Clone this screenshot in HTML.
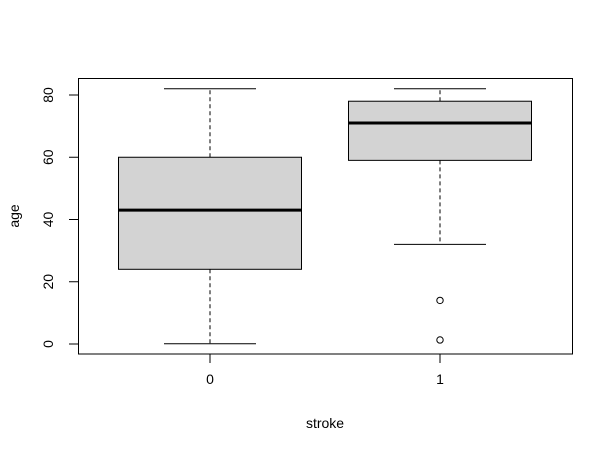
<!DOCTYPE html>
<html><head><meta charset="utf-8"><style>body{margin:0;background:#fff}svg{display:block}text{font-family:"Liberation Sans",Arial,sans-serif;font-size:14px;fill:#000}</style></head>
<body>
<svg id="chart" width="613" height="452">
<rect x="78.5" y="78.5" width="494" height="275.5" fill="none" stroke="#000"/>
<g id="yaxis"></g>
<g id="xaxis"></g>
<g id="boxes"></g>
<text x="325" y="428" text-anchor="middle">stroke</text>
<text transform="translate(19,216) rotate(-90)" text-anchor="middle">age</text>
</svg>
<script>
const categories = ["0","1"];
const mins = [0.08, 32];
const q1s = [24, 59];
const medians = [43, 71];
const q3s = [60, 78];
const maxs = [82, 82];
const outliers = [[], [14, 1.3]];
const yTicks = [0,20,40,60,80];
const NS="http://www.w3.org/2000/svg";
function y(v){return 344 - v*(344-95)/80;}
function x(i){return 210 + i*230;}
function mk(tag,attrs,parent){const e=document.createElementNS(NS,tag);for(const k in attrs)e.setAttribute(k,attrs[k]);parent.appendChild(e);return e;}
const ya=document.getElementById('yaxis'), xa=document.getElementById('xaxis'), bx=document.getElementById('boxes');
mk('line',{x1:78.5,x2:78.5,y1:y(0),y2:y(80),stroke:'#000'},ya);
yTicks.forEach(t=>{
  const l=mk('line',{x1:69,x2:78.5,y1:y(t),y2:y(t),stroke:'#000'},ya);
  
  
  const tx=mk('text',{transform:`translate(53,${y(t)}) rotate(-90)`,'text-anchor':'middle'},ya);
  tx.textContent=t;
  
  
});
mk('line',{x1:x(0),x2:x(1),y1:354,y2:354,stroke:'#000'},xa);
categories.forEach((c,i)=>{
  const l=mk('line',{x1:x(i),x2:x(i),y1:354,y2:363,stroke:'#000'},xa);
  
  
  const tx=mk('text',{x:x(i),y:384,'text-anchor':'middle'},xa);
  tx.textContent=c;
  
  
  const g=mk('g',{},bx);
  
  
  const cx=x(i);
  mk('line',{x1:cx,x2:cx,y1:y(q3s[i]),y2:y(maxs[i]),stroke:'#000','stroke-dasharray':'4,3'},g);
  mk('line',{x1:cx,x2:cx,y1:y(q1s[i]),y2:y(mins[i]),stroke:'#000','stroke-dasharray':'4,3'},g);
  mk('line',{x1:cx-46,x2:cx+46,y1:y(maxs[i]),y2:y(maxs[i]),stroke:'#000'},g);
  mk('line',{x1:cx-46,x2:cx+46,y1:y(mins[i]),y2:y(mins[i]),stroke:'#000'},g);
  mk('rect',{x:cx-91.5,y:y(q3s[i]),width:183,height:y(q1s[i])-y(q3s[i]),fill:'#d3d3d3',stroke:'#000'},g);
  mk('line',{x1:cx-91.5,x2:cx+91.5,y1:y(medians[i]),y2:y(medians[i]),stroke:'#000','stroke-width':3},g);
  outliers[i].forEach(o=>{
    const p=mk('circle',{cx:cx,cy:y(o),r:3.2,fill:'none',stroke:'#000'},g);
    
    
  });
});
</script>
</body></html>
